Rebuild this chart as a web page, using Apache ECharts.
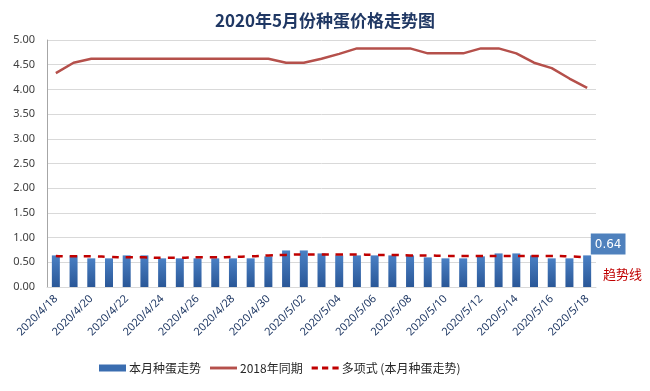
<!DOCTYPE html>
<html><head><meta charset="utf-8">
<script src="https://cdn.jsdelivr.net/npm/echarts@6/dist/echarts.min.js"></script>
<style>html,body{margin:0;padding:0;background:#fff}#c{width:650px;height:391px}</style>
</head><body><div id="c"></div>
<script>
const categories = ['2020/4/18','2020/4/19','2020/4/20','2020/4/21','2020/4/22','2020/4/23','2020/4/24','2020/4/25','2020/4/26','2020/4/27','2020/4/28','2020/4/29','2020/4/30',
 '2020/5/01','2020/5/02','2020/5/03','2020/5/04','2020/5/05','2020/5/06','2020/5/07','2020/5/08','2020/5/09','2020/5/10','2020/5/11','2020/5/12','2020/5/13','2020/5/14','2020/5/15','2020/5/16','2020/5/17','2020/5/18'];
const thisMonth = [0.64,0.64,0.58,0.58,0.64,0.64,0.58,0.58,0.58,0.58,0.58,0.58,0.62,0.74,0.74,0.68,0.64,0.64,0.64,0.64,0.64,0.60,0.58,0.58,0.62,0.68,0.68,0.64,0.58,0.58,0.64];
const sameTime2018 = [4.33,4.54,4.62,4.62,4.62,4.62,4.62,4.62,4.62,4.62,4.62,4.62,4.62,4.54,4.54,4.62,4.72,4.83,4.83,4.83,4.83,4.73,4.73,4.73,4.83,4.83,4.73,4.54,4.43,4.22,4.03];
const trend = [0.63,0.62,0.62,0.61,0.60,0.60,0.59,0.59,0.60,0.60,0.61,0.62,0.64,0.65,0.66,0.66,0.66,0.66,0.65,0.65,0.64,0.64,0.63,0.63,0.63,0.63,0.63,0.63,0.63,0.62,0.60];
const yTicks = [0,0.5,1,1.5,2,2.5,3,3.5,4,4.5,5];

const chart = echarts.init(document.getElementById('c'));
const barData = thisMonth.map((v,i)=> i===thisMonth.length-1 ? {value:v,label:{show:true,position:'top',offset:[21,4],formatter:p=>p.value.toFixed(2),color:'#fff',backgroundColor:'#4F81BD',padding:[5,4,4,4],fontSize:12,fontFamily:'DejaVu Sans'}} : v);
const lineIcon = 'path://M0,0H28V3H0Z';
const dashIcon = 'path://M0,0H6V3H0ZM10,0H16V3H10ZM20,0H26V3H20Z';
chart.setOption({
  animation:false,
  title:{text:'2020年5月份种蛋价格走势图',left:'center',top:7,textStyle:{fontSize:17,fontWeight:'bold',color:'#203864',fontFamily:'"Noto Sans CJK SC"'}},
  grid:{left:47,right:54,top:40,bottom:104},
  legend:{bottom:12,left:94,itemGap:9,textStyle:{fontSize:12,color:'#262626',fontFamily:'"Noto Sans CJK SC"',padding:[0,0,0,-2]},
    data:[{name:'本月种蛋走势',icon:'rect',itemStyle:{color:'#3A6DB0'},itemHeight:7},
          {name:'2018年同期',icon:lineIcon,itemHeight:2},
          {name:'多项式 (本月种蛋走势)',icon:dashIcon,itemHeight:3}],itemWidth:27,itemHeight:7},
  xAxis:{type:'category',data:categories,boundaryGap:true,
    axisLine:{lineStyle:{color:'#D9D9D9'}},axisTick:{show:false},
    axisLabel:{interval:1,rotate:45,fontSize:11,color:'#1F3864',margin:10,fontFamily:'"Noto Sans"'}},
  yAxis:{type:'value',min:yTicks[0],max:yTicks[yTicks.length-1],interval:0.5,
    axisLine:{show:true,lineStyle:{color:'#A6A6A6'}},axisTick:{show:false},
    splitLine:{lineStyle:{color:'#D9D9D9'}},
    axisLabel:{formatter:v=>v.toFixed(2),fontSize:11,color:'#404040',margin:12,fontFamily:'"Noto Sans"'}},
  series:[
    {name:'本月种蛋走势',type:'bar',data:barData,barWidth:8,
      itemStyle:{color:new echarts.graphic.LinearGradient(0,0,0,1,[{offset:0,color:'#4A80C4'},{offset:1,color:'#2A5797'}])}},
    {name:'2018年同期',type:'line',data:sameTime2018,symbol:'none',lineStyle:{color:'#B5504B',width:2.5},itemStyle:{color:'#B5504B'}},
    {name:'多项式 (本月种蛋走势)',type:'line',data:trend,symbol:'none',smooth:true,lineStyle:{color:'#C00000',width:2.5,type:[7,7]},itemStyle:{color:'#C00000'},z:5}
  ],
  graphic:[{type:'text',left:603,top:268,style:{text:'趋势线',fill:'#C00000',fontSize:13,fontFamily:'"Noto Sans CJK SC"'}}]
});
</script></body></html>
